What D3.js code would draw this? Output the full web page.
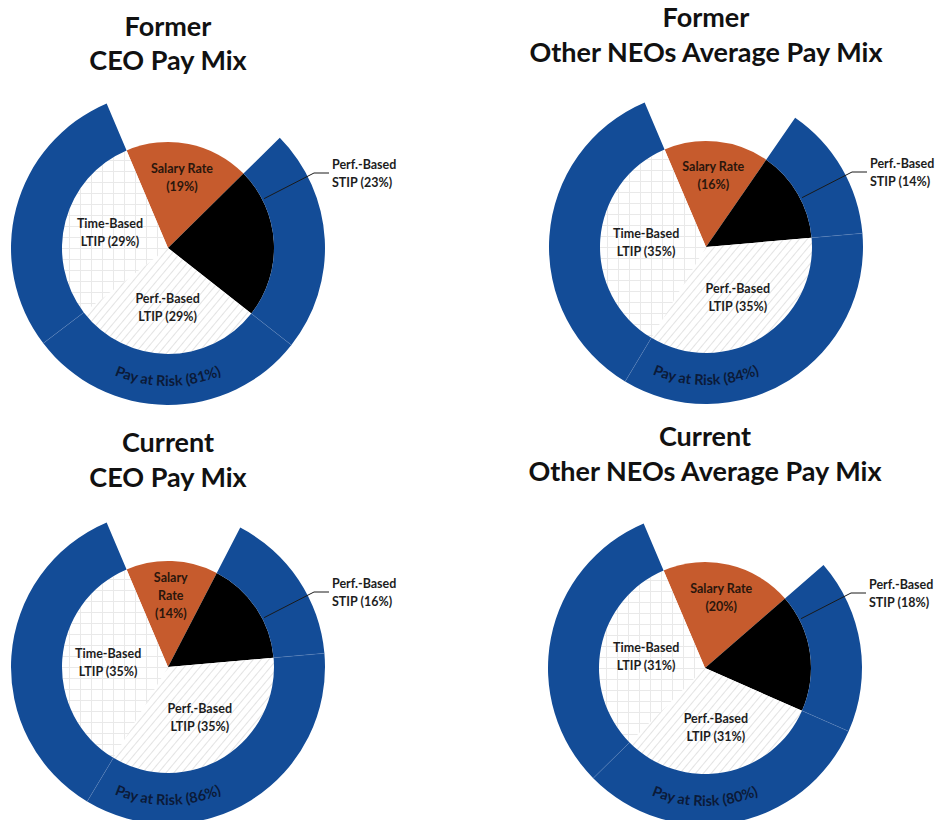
<!DOCTYPE html>
<html>
<head>
<meta charset="utf-8">
<script src="https://cdn.jsdelivr.net/npm/d3@7"></script>
<style>
  html, body { margin: 0; padding: 0; background: #ffffff; }
  svg { display: block; font-family: Lato, "Open Sans", sans-serif; }
</style>
</head>
<body>
<svg id="chart" width="940" height="820"></svg>
<script>
// ---- Data ----
const titleTop = ["Former", "Former", "Current", "Current"];
const titleBottom = ["CEO Pay Mix", "Other NEOs Average Pay Mix", "CEO Pay Mix", "Other NEOs Average Pay Mix"];
const components = ["Salary Rate", "Perf.-Based STIP", "Perf.-Based LTIP", "Time-Based LTIP"];
const formerCEO = [19, 23, 29, 29];
const formerNEO = [16, 14, 35, 35];
const currentCEO = [14, 16, 35, 35];
const currentNEO = [20, 18, 31, 31];
const payAtRisk = [81, 84, 86, 80];
// How each component's label text is broken into lines
const salaryLines = [["Salary Rate"], ["Salary Rate"], ["Salary", "Rate"], ["Salary Rate"]];
const stipLines = ["Perf.-Based", "STIP"];
const perfLtipLines = ["Perf.-Based", "LTIP"];
const timeLtipLines = ["Time-Based", "LTIP"];

const mixes = [formerCEO, formerNEO, currentCEO, currentNEO];

// ---- Layout ----
const svg = d3.select("#chart");
const panelCenters = [[168, 248], [706, 247], [168, 667], [705, 668]];
const titleBaselines = [[36, 70], [27, 62], [452, 487], [446, 481]];
const R = 106;          // pie radius
const R2 = 157;         // outer edge of the pay-at-risk ring
const startAngle = -23 * Math.PI / 180;

const colors = {
  salary: "#C65B2D",
  stip: "#000000",
  ring: "#134C97",
  ringSeam: "#6F8FC4",
  text: "#1d1d1d",
  ringText: "#0B1A38"
};

// ---- Fill patterns ----
const defs = svg.append("defs");
const diag = defs.append("pattern")
  .attr("id", "diagHatch")
  .attr("patternUnits", "userSpaceOnUse")
  .attr("width", 6).attr("height", 6)
  .attr("patternTransform", "rotate(40)");
diag.append("rect").attr("width", 6).attr("height", 6).attr("fill", "#ffffff");
diag.append("line").attr("x1", 0).attr("y1", 0).attr("x2", 0).attr("y2", 6)
  .attr("stroke", "#cdcdcd").attr("stroke-width", 1.1);

const grid = defs.append("pattern")
  .attr("id", "gridHatch")
  .attr("patternUnits", "userSpaceOnUse")
  .attr("width", 11).attr("height", 11);
grid.append("rect").attr("width", 11).attr("height", 11).attr("fill", "#ffffff");
grid.append("path").attr("d", "M0.5 0 V11 M0 0.5 H11")
  .attr("stroke", "#e9e9e9").attr("stroke-width", 1).attr("fill", "none");

const fills = [colors.salary, colors.stip, "url(#diagHatch)", "url(#gridHatch)"];

const pie = d3.pie().sort(null).value(d => d)
  .startAngle(startAngle).endAngle(startAngle + 2 * Math.PI);
const sliceArc = d3.arc().innerRadius(0).outerRadius(R);
const ringArc = d3.arc().innerRadius(R).outerRadius(R2);

const polar = (r, a) => [r * Math.sin(a), -r * Math.cos(a)];

function multiLine(g, lines, x, y, opts = {}) {
  const lh = opts.lineHeight || 18;
  const t = g.append("text")
    .attr("x", x).attr("y", y)
    .attr("text-anchor", opts.anchor || "middle")
    .attr("font-size", opts.size || 12.5)
    .attr("font-weight", 700)
    .attr("fill", opts.fill || colors.text);
  const n = lines.length;
  lines.forEach((ln, i) => {
    t.append("tspan")
      .attr("x", x)
      .attr("y", y + (i - (n - 1) / 2) * lh + 4.5)
      .text(ln);
  });
  return t;
}

mixes.forEach((values, p) => {
  const [cx, cy] = panelCenters[p];
  const g = svg.append("g").attr("transform", `translate(${cx},${cy})`);
  const arcs = pie(values);

  // Title
  svg.append("text")
    .attr("x", cx).attr("y", titleBaselines[p][0])
    .attr("text-anchor", "middle").attr("font-size", 27).attr("font-weight", 700)
    .attr("fill", "#111").text(titleTop[p]);
  svg.append("text")
    .attr("x", cx).attr("y", titleBaselines[p][1])
    .attr("text-anchor", "middle").attr("font-size", 27).attr("font-weight", 700)
    .attr("fill", "#111").text(titleBottom[p]);

  // Inner pie slices
  g.selectAll("path.slice").data(arcs).join("path")
    .attr("class", "slice")
    .attr("d", sliceArc)
    .attr("fill", (d, i) => fills[i]);

  // Pay-at-risk ring: every component other than salary
  const riskArcs = arcs.slice(1);
  g.selectAll("path.ring").data(riskArcs).join("path")
    .attr("class", "ring")
    .attr("d", ringArc)
    .attr("fill", colors.ring);

  // Faint seams between ring segments
  riskArcs.slice(1).forEach(d => {
    const [x1, y1] = polar(R, d.startAngle);
    const [x2, y2] = polar(R2, d.startAngle);
    g.append("line").attr("x1", x1).attr("y1", y1).attr("x2", x2).attr("y2", y2)
      .attr("stroke", colors.ringSeam).attr("stroke-width", 0.7).attr("opacity", 0.45);
  });

  // Curved ring label along the bottom of the ring
  const rt = 138;
  const a0 = 240 * Math.PI / 180, a1 = 120 * Math.PI / 180;
  const [sx, sy] = polar(rt, a0);
  const [ex, ey] = polar(rt, a1);
  defs.append("path")
    .attr("id", `ringPath${p}`)
    .attr("d", `M${cx + sx},${cy + sy} A${rt},${rt} 0 0 0 ${cx + ex},${cy + ey}`);
  svg.append("text")
    .attr("font-size", 14.5).attr("font-weight", 700).attr("fill", colors.ringText)
    .append("textPath")
    .attr("href", `#ringPath${p}`)
    .attr("startOffset", "50%")
    .attr("text-anchor", "middle")
    .text(`Pay at Risk (${payAtRisk[p]}%)`);

  // Salary label
  const mid = d => (d.startAngle + d.endAngle) / 2;
  const [slx, sly] = polar(72, mid(arcs[0]));
  multiLine(g, [...salaryLines[p], `(${values[0]}%)`], slx, sly, { fill: "#2a160c" });

  // Perf.-Based LTIP label
  const [plx, ply] = polar(60, mid(arcs[2]));
  multiLine(g, [perfLtipLines[0], `${perfLtipLines[1]} (${values[2]}%)`], plx, ply);

  // Time-Based LTIP label
  const [tlx, tly] = polar(60, mid(arcs[3]));
  multiLine(g, [timeLtipLines[0], `${timeLtipLines[1]} (${values[3]}%)`], tlx, tly);

  // Perf.-Based STIP label outside the ring, with leader line
  const lx = 164, ly = -75;
  multiLine(g, [stipLines[0], `${stipLines[1]} (${values[1]}%)`], lx, ly, { anchor: "start" });
  const elbow = [146, ly];
  const stip = arcs[1];
  let ang = Math.atan2(elbow[0], -elbow[1]);
  const pad = 4 * Math.PI / 180;
  ang = Math.max(stip.startAngle + pad, Math.min(stip.endAngle - pad, ang));
  const [ax, ay] = polar(R + 2, ang);
  g.append("polyline")
    .attr("points", `${lx - 3},${ly} ${elbow[0]},${elbow[1]} ${ax},${ay}`)
    .attr("fill", "none").attr("stroke", "#1a1a1a").attr("stroke-width", 1);
});
</script>
</body>
</html>
